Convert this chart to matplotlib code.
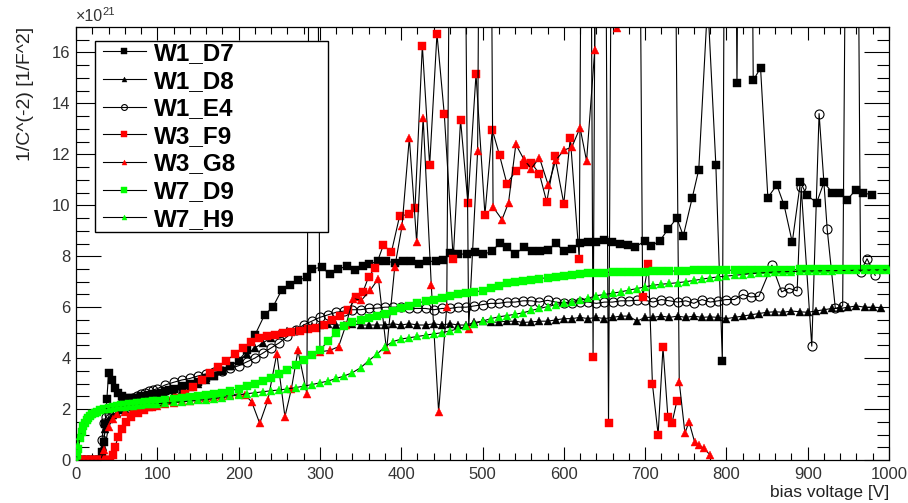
import matplotlib
matplotlib.use("Agg")
import matplotlib.pyplot as plt
from matplotlib.patches import Rectangle
from matplotlib.ticker import MultipleLocator

plt.rcParams['font.family'] = ['Liberation Sans', 'DejaVu Sans']

# shared voltage grid of the smooth scans, 10 V steps
volts_10v = [100, 110, 120, 130, 140, 150, 160, 170, 180, 190,
             200, 210, 220, 230, 240, 250, 260, 270, 280, 290,
             300, 310, 320, 330, 340, 350, 360, 370, 380, 390,
             400, 410, 420, 430, 440, 450, 460, 470, 480, 490,
             500, 510, 520, 530, 540, 550, 560, 570, 580, 590,
             600, 610, 620, 630, 640, 650, 660, 670, 680, 690,
             700, 710, 720, 730, 740, 750, 760, 770, 780, 790,
             800, 810, 820, 830, 840, 850, 860, 870, 880, 890,
             900, 910, 920, 930, 940, 950, 960, 970, 980, 990, 1000]

# W1_D7  (values in 1e21 1/F^2)
w1_d7_v = [0, 5, 10, 15, 20, 25, 30,
           32, 34, 36, 38, 40,
           44, 48, 52, 56, 60, 65, 70, 75, 80, 85, 90, 95, 100, 105, 110, 115, 120,
           130, 140, 150, 160, 170, 180, 190, 200, 210, 220,
           232, 242, 253, 263, 273, 284, 290, 302, 312, 322,
           333, 343, 353, 361, 371, 381, 392, 402, 412, 422,
           432, 443, 451, 460, 470, 481, 491, 501, 512, 521,
           530, 540, 551, 561, 571, 581, 590, 600, 610, 620,
           630, 640, 650, 659, 669, 679, 688, 700, 707, 718,
           728, 739, 747, 758, 766, 777, 787, 795, 803, 813,
           823, 833, 842, 851, 862, 871, 881, 891, 899, 911,
           920, 930, 940, 948, 959, 968, 979]
w1_d7_c = [0, 0, 0, 0, 0, 0, 0,
           0.3, 0.7, 1.4, 2.4, 3.4,
           3.14, 2.82, 2.62, 2.5, 2.45, 2.42, 2.45, 2.45, 2.5, 2.5, 2.55, 2.6, 2.6, 2.65, 2.7, 2.75, 2.8,
           2.9, 3.0, 3.05, 3.2, 3.3, 3.5, 3.7, 3.9, 4.3, 4.9,
           5.7, 6.0, 6.67, 6.86, 7.06, 7.17, 7.5, 7.57, 7.3, 7.5,
           7.6, 7.45, 7.6, 7.7, 7.8, 7.8, 7.75, 7.8, 7.8, 7.7,
           7.8, 7.8, 7.85, 8.13, 8.07, 8.1, 8.17, 8.07, 8.2, 8.52,
           8.37, 8.07, 8.37, 8.2, 8.2, 8.24, 8.52, 8.2, 8.3, 8.52,
           8.56, 8.56, 8.63, 8.56, 8.5, 8.43, 8.37, 8.6, 8.4, 8.6,
           9.05, 9.5, 8.8, 10.3, 11.4, 18.0, 11.6, 3.9, 60, 14.8,
           60, 14.9, 15.4, 10.3, 10.8, 10.0, 8.55, 10.9, 10.4, 10.1,
           10.9, 10.5, 10.5, 10.2, 10.6, 10.5, 10.4]

# W1_D8
w1_d8_v = [0, 5, 10, 15, 20, 25, 30, 33, 36, 40, 45, 50, 55, 60, 70, 80, 90] + volts_10v[:90]
w1_d8_c = [0, 0, 0, 0, 0, 0, 0, 0.5, 1.2, 1.6, 1.75, 1.85, 1.95, 2.0, 2.1, 2.2, 2.3,
           2.45, 2.55, 2.65, 2.75, 2.85, 3.0, 3.15, 3.3, 3.5, 3.7,
           3.9, 4.15, 4.4, 4.6, 4.8, 4.95, 5.05, 5.1, 5.2, 5.25,
           5.3, 5.35, 5.3, 5.3, 5.35, 5.3, 5.3, 5.3, 5.3, 5.35,
           5.3, 5.35, 5.3, 5.3, 5.35, 5.3, 5.35, 5.3, 5.3, 5.4,
           5.45, 5.4, 5.42, 5.45, 5.45, 5.4, 5.42, 5.45, 5.45, 5.5,
           5.55, 5.55, 5.6, 5.55, 5.6, 5.55, 5.6, 5.65, 5.65, 5.45,
           5.6, 5.6, 5.65, 5.6, 5.65, 5.6, 5.65, 5.6, 5.62, 5.6,
           5.55, 5.6, 5.65, 5.7, 5.75, 5.8, 5.82, 5.8, 5.85, 5.82,
           5.8, 5.85, 5.9, 5.95, 5.95, 6.0, 6.05, 6.0, 6.0, 5.98]

# W1_E4
w1_e4_v = ([0, 5, 10, 15, 20, 25, 30, 32, 34, 37, 40, 45, 50, 55, 60, 65, 70, 75, 80, 85, 90, 95]
           + volts_10v[:75]
           + [856, 868, 877, 887, 892, 905, 914, 924, 934, 943, 951, 958, 965, 973, 983])
w1_e4_c = [0, 0, 0, 0, 0, 0, 0, 0.8, 1.45, 1.7, 1.8, 1.95, 2.1, 2.2, 2.3, 2.38, 2.45, 2.52, 2.6, 2.65, 2.7, 2.75,
           2.8, 2.95, 3.05, 3.14, 3.2, 3.3, 3.38, 3.45, 3.5, 3.6,
           3.7, 3.85, 4.0, 4.2, 4.4, 4.6, 4.85, 5.1, 5.3, 5.45,
           5.6, 5.7, 5.8, 5.85, 5.9, 5.9, 5.95, 5.96, 6.0, 6.0,
           6.0, 5.95, 5.95, 5.95, 5.9, 5.95, 5.95, 6.0, 6.0, 6.05,
           6.1, 6.15, 6.15, 6.2, 6.2, 6.25, 6.25, 6.2, 6.27, 6.2,
           6.17, 6.15, 6.2, 6.2, 6.15, 6.2, 6.2, 6.25, 6.25, 6.27,
           6.27, 6.2, 6.3, 6.25, 6.2, 6.25, 6.15, 6.3, 6.2, 6.25,
           6.3, 6.3, 6.5, 6.4, 6.43,
           7.65, 6.6, 6.74, 6.64, 10.7, 4.47, 13.6, 9.05, 5.95, 6.05, 40, 40, 7.4, 7.9, 7.25]

# W3_F9
w3_f9_v = [0, 2, 4, 6, 8, 10, 12, 14, 16, 18, 20, 22, 24, 26, 28, 30, 32, 34, 36, 38, 40, 42,
           45, 48, 52, 56, 62, 68, 76, 84, 94, 104,
           114, 124, 134, 144, 155, 165, 175, 185, 195, 205,
           215, 225, 235, 245, 255, 265, 275, 285, 295, 305,
           315, 325, 335, 345, 353, 360, 368, 378, 388, 398,
           409, 417, 426, 435, 444, 453, 464, 473, 482, 492,
           503, 512, 521, 530, 541, 551, 560, 570, 579, 589,
           600, 608, 619, 628, 636, 645, 655, 665, 675, 685,
           697, 704, 709, 716, 722, 728, 733, 739]
w3_f9_c = [0, 0, 0, 0, 0, 0, 0, 0, 0, 0, 0, 0, 0, 0, 0, 0, 0, 0, 0, 0, 0, 0,
           0.2, 0.52, 0.91, 1.2, 1.5, 1.7, 1.83, 1.96, 2.1, 2.22,
           2.3, 2.42, 2.6, 2.85, 3.14, 3.42, 3.66, 3.9, 4.15, 4.4,
           4.62, 4.78, 4.86, 4.92, 4.97, 5.03, 5.08, 5.13, 5.2, 5.3,
           5.48, 5.65, 5.9, 6.4, 6.6, 7.2, 7.55, 8.43, 8.17, 9.57,
           9.65, 9.9, 16.27, 11.57, 16.73, 13.57, 7.9, 13.36, 10.1, 15.14,
           9.63, 12.97, 11.96, 10.85, 11.35, 11.6, 11.66, 11.24, 10.13, 11.92,
           10.07, 12.65, 7.9, 60, 4.05, 60, 1.44, 60, 80, 60,
           6.38, 7.71, 2.98, 1.0, 4.42, 1.7, 1.44, 2.3]

# W3_G8
w3_g8_v = [0, 5, 10, 15, 20, 25, 30, 35, 40, 45,
           50, 60, 70, 80, 90, 100, 110, 120, 130, 140,
           150, 160, 170, 180, 190, 200, 208, 216, 226, 236,
           247, 257, 265, 273, 284, 292, 300, 312, 323, 332,
           341, 351, 362, 372, 382, 392, 401, 410, 419, 427,
           437, 446, 456, 468, 483, 494, 503, 513, 524, 532,
           541, 551, 560, 570, 581, 590, 600, 610, 620, 628,
           638, 648, 665, 675, 690, 705, 720, 732, 742, 749,
           754, 761, 766, 772, 780]
w3_g8_c = [0, 0, 0, 0, 0, 0, 0, 0.4, 1.3, 1.6,
           1.8, 1.9, 2.0, 2.05, 2.1, 2.12, 2.2, 2.25, 2.3, 2.33,
           2.38, 2.42, 2.46, 2.5, 2.55, 2.6, 2.55, 2.29, 1.44, 2.35,
           4.18, 1.7, 2.8, 4.3, 2.6, 60, 4.25, 4.3, 4.45, 5.3,
           6.34, 6.27, 6.67, 7.12, 4.3, 7.56, 9.18, 12.65, 8.56, 13.44,
           6.86, 1.9, 6.0, 60, 5.16, 12.13, 60, 9.93, 9.44, 10.1,
           12.39, 11.8, 11.44, 11.87, 10.78, 11.76, 12.16, 12.29, 13.05, 11.74,
           16.08, 60, 16.97, 60, 80, 80, 60, 40, 3.07, 1.05,
           1.5, 0.7, 0.58, 0.46, 0.2]

# W7_D9
w7_d9_v = [0, 1, 3, 5, 7, 9, 11, 13, 15, 17, 20, 23, 26, 30, 35, 40, 45, 50, 55, 60,
           65, 70, 75, 80, 85, 90, 95] + volts_10v
w7_d9_c = [0, 0.2, 0.45, 0.85, 1.1, 1.33, 1.47, 1.57, 1.65, 1.72, 1.8, 1.86, 1.9, 1.95, 2.0, 2.05,
           2.08, 2.11, 2.14, 2.17, 2.19, 2.21, 2.23, 2.25, 2.27, 2.29, 2.31,
           2.33, 2.37, 2.41, 2.45, 2.49, 2.52, 2.56, 2.6, 2.65, 2.72,
           2.8, 2.9, 3.0, 3.1, 3.22, 3.36, 3.53, 3.73, 3.93, 4.12,
           4.3, 4.68, 5.0, 5.25, 5.4, 5.5, 5.58, 5.65, 5.73, 5.85,
           5.95, 6.05, 6.15, 6.25, 6.3, 6.37, 6.43, 6.5, 6.55, 6.6,
           6.65, 6.75, 6.85, 6.93, 6.98, 7.03, 7.07, 7.12, 7.16, 7.2,
           7.24, 7.28, 7.32, 7.34, 7.35, 7.36, 7.38, 7.4, 7.4, 7.4,
           7.4, 7.41, 7.42, 7.42, 7.42, 7.43, 7.44, 7.44, 7.45, 7.45,
           7.45, 7.45, 7.46, 7.46, 7.46, 7.46, 7.47, 7.47, 7.47, 7.48,
           7.48, 7.48, 7.48, 7.49, 7.49, 7.5, 7.5, 7.5, 7.5, 7.5, 7.5]

# W7_H9
w7_h9_v = [0, 1, 3, 5, 7, 9, 12, 15, 18, 22, 26, 30, 35, 40, 45, 50, 55, 60, 65, 70,
           75, 80, 85, 90, 95] + volts_10v
w7_h9_c = [0, 0.3, 0.6, 0.95, 1.2, 1.4, 1.6, 1.72, 1.8, 1.87, 1.92, 1.96, 2.0, 2.02, 2.05,
           2.07, 2.09, 2.1, 2.12, 2.13, 2.15, 2.16, 2.18, 2.19, 2.2,
           2.21, 2.23, 2.26, 2.28, 2.31, 2.34, 2.37, 2.41, 2.45, 2.5,
           2.56, 2.6, 2.64, 2.68, 2.72, 2.75, 2.79, 2.84, 2.9, 2.96,
           3.03, 3.1, 3.2, 3.3, 3.43, 3.62, 3.9, 4.15, 4.45, 4.65,
           4.75, 4.8, 4.85, 4.9, 4.95, 5.0, 5.07, 5.15, 5.25, 5.35,
           5.45, 5.55, 5.62, 5.67, 5.72, 5.78, 5.87, 5.95, 6.02, 6.1,
           6.17, 6.22, 6.27, 6.35, 6.45, 6.5, 6.55, 6.6, 6.67, 6.73,
           6.8, 6.86, 6.9, 6.93, 6.96, 7.0, 7.05, 7.1, 7.15, 7.19,
           7.22, 7.25, 7.28, 7.32, 7.34, 7.36, 7.38, 7.39, 7.4, 7.41,
           7.42, 7.42, 7.43, 7.43, 7.44, 7.44, 7.45, 7.45, 7.46, 7.46, 7.46]

names = ["W1_D7", "W1_D8", "W1_E4", "W3_F9", "W3_G8", "W7_D9", "W7_H9"]
volts = [w1_d7_v, w1_d8_v, w1_e4_v, w3_f9_v, w3_g8_v, w7_d9_v, w7_h9_v]
invc2 = [w1_d7_c, w1_d8_c, w1_e4_c, w3_f9_c, w3_g8_c, w7_d9_c, w7_h9_c]

marker = ['s', '^', 'o', 's', '^', 's', '^']
colour = ['black', 'black', 'black', '#ff0000', '#ff0000', '#00ff00', '#00ff00']
msize = [6, 5.5, 6.5, 6, 5.5, 6, 5.5]

fig = plt.figure(figsize=(9.08, 5.03), dpi=100)
ax = fig.add_axes([76 / 908, 1 - 460 / 503, 813 / 908, 433 / 503])

handles = []
for i in range(len(names)):
    face = 'none' if marker[i] == 'o' else colour[i]
    h, = ax.plot(volts[i], invc2[i], color='black', lw=0.8, marker=marker[i],
                 ms=msize[i], mfc=face, mec=colour[i], mew=0.8 if face == 'none' else 0.3,
                 zorder=2 + 0.1 * i, clip_on=True)
    handles.append(h)

ax.set_xlim(0, 1000)
ax.set_ylim(0, 17)
ax.xaxis.set_major_locator(MultipleLocator(100))
ax.xaxis.set_minor_locator(MultipleLocator(20))
ax.yaxis.set_major_locator(MultipleLocator(2))
ax.yaxis.set_minor_locator(MultipleLocator(0.5))
ax.tick_params(axis='x', which='major', direction='in', length=9.5, width=0.8,
               top=True, bottom=True, labelsize=12, labelcolor='#333333', pad=5)
ax.tick_params(axis='x', which='minor', direction='in', length=5, width=0.8, top=True, bottom=True)
ax.tick_params(axis='y', which='major', direction='in', length=18, width=0.8,
               left=True, right=True, labelsize=12, labelcolor='#333333', pad=4)
ax.tick_params(axis='y', which='minor', direction='in', length=9, width=0.8, left=True, right=True)
for s in ax.spines.values():
    s.set_linewidth(0.9)

ax.set_xlabel("bias voltage [V]", fontsize=12.5, color='#222222', loc='right', labelpad=2)
ax.set_ylabel("1/C^(-2) [1/F^2]", fontsize=14, color='#222222', loc='top', labelpad=13)
ax.text(0, 1.008, "\u00d710", transform=ax.transAxes, fontsize=11.5, color='#333333',
        ha='left', va='bottom')
ax.text(0.032, 1.024, "21", transform=ax.transAxes, fontsize=8, color='#333333',
        ha='left', va='bottom')

# legend box (ROOT style, fixed size)
x0 = (95 - 76) / 813
x1 = (328 - 76) / 813
y1 = (460 - 41) / 433
y0 = (460 - 232) / 433
ax.add_patch(Rectangle((x0, y0), x1 - x0, y1 - y0, transform=ax.transAxes,
                       facecolor='white', edgecolor='black', lw=1.0, zorder=10))
leg = ax.legend(handles, names, loc='upper left',
                bbox_to_anchor=((103 - 76) / 813, (460 - 42) / 433),
                frameon=False, prop={'family': 'Liberation Sans', 'weight': 'bold', 'size': 17.5},
                handlelength=1.75, handletextpad=0.35, labelspacing=0.19, markerscale=0.65,
                borderpad=0, borderaxespad=0)
leg.set_zorder(11)

fig.savefig("out.png", dpi=100)
